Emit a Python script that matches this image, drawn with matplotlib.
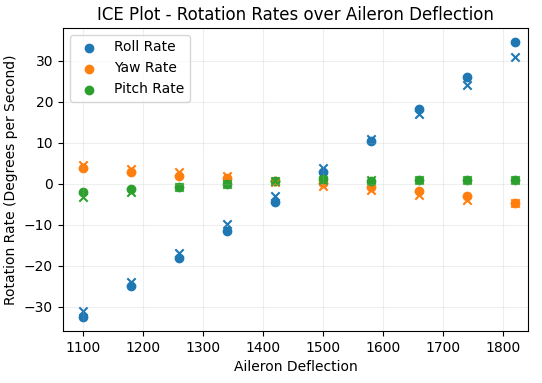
import numpy as np
import matplotlib
matplotlib.use('Agg')
import matplotlib.pyplot as plt

aileron = [1100, 1180, 1260, 1340, 1420, 1500, 1580, 1660, 1740, 1820]

roll_rate = [-32.5, -24.9, -18.0, -11.4, -4.5, 2.9, 10.5, 18.3, 26.1, 34.6]
yaw_rate = [3.8, 2.85, 1.95, 1.5, 0.6, 0.15, -0.8, -1.7, -2.9, -4.7]
pitch_rate = [-2.0, -1.2, -0.8, -0.1, 0.7, 1.2, 0.7, 0.9, 0.9, 0.9]

roll_pred = [-31.1, -24.0, -16.9, -9.8, -2.9, 3.9, 11.0, 17.1, 24.1, 31.0]
yaw_pred = [4.7, 3.7, 2.9, 1.95, 0.5, -0.5, -1.5, -2.7, -3.9, -4.7]
pitch_pred = [-3.1, -2.0, -0.7, 0.0, 0.7, 1.0, 0.9, 1.0, 1.0, 0.9]

fig, ax = plt.subplots(figsize=(5.42, 3.83), dpi=100)

ax.scatter(aileron, roll_rate, color='C0', label='Roll Rate')
ax.scatter(aileron, yaw_rate, color='C1', label='Yaw Rate')
ax.scatter(aileron, pitch_rate, color='C2', label='Pitch Rate')
ax.scatter(aileron, roll_pred, color='C0', marker='x')
ax.scatter(aileron, yaw_pred, color='C1', marker='x')
ax.scatter(aileron, pitch_pred, color='C2', marker='x')

ax.set_xlim(1067, 1842)
ax.set_ylim(-35.85, 38.0)
ax.set_title('ICE Plot - Rotation Rates over Aileron Deflection')
ax.set_xlabel('Aileron Deflection')
ax.set_ylabel('Rotation Rate (Degrees per Second)')
ax.grid(True, alpha=0.2)
ax.legend(loc='upper left')

fig.subplots_adjust(left=0.116, right=0.974, top=0.927, bottom=0.136)
plt.savefig('out.png', dpi=100)
